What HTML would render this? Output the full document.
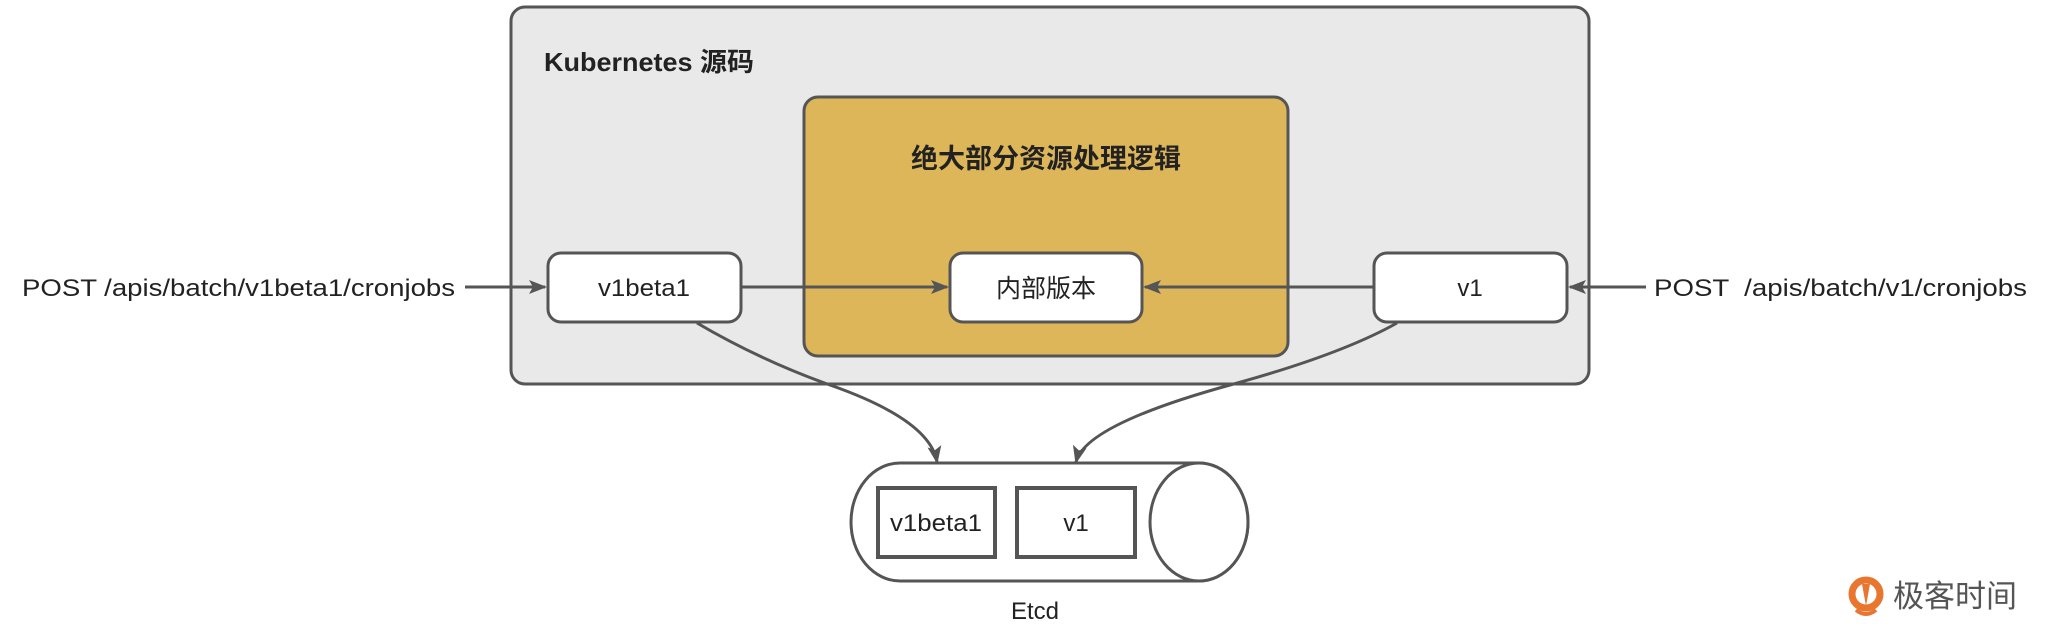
<!DOCTYPE html>
<html><head><meta charset="utf-8"><style>
html,body{margin:0;padding:0;background:#fff;}
svg{display:block;}
text{font-family:"Liberation Sans","Noto Sans CJK SC",sans-serif;fill:#222;}
</style></head><body>
<svg width="2054" height="642" viewBox="0 0 2054 642" xmlns="http://www.w3.org/2000/svg">
<defs>
<marker id="b" markerWidth="18" markerHeight="18" refX="16" refY="9" orient="auto" markerUnits="userSpaceOnUse" viewBox="0 0 18 18">
<path d="M0,2 L18,9 L0,16 L4,9 Z" fill="#555"/>
</marker>
</defs>
<rect x="511" y="7" width="1078" height="377" rx="14" fill="#E8E9E8" stroke="#555" stroke-width="3"/>
<text x="544" y="71" font-size="26" font-weight="bold" textLength="210" lengthAdjust="spacingAndGlyphs">Kubernetes 源码</text>
<rect x="804" y="97" width="484" height="259" rx="14" fill="#DEB65A" stroke="#555" stroke-width="3"/>
<text x="1046" y="168" font-size="27" font-weight="bold" text-anchor="middle">绝大部分资源处理逻辑</text>
<rect x="548" y="253" width="193" height="69" rx="13" fill="#fff" stroke="#555" stroke-width="3"/>
<text x="644" y="296" font-size="24" text-anchor="middle" textLength="92" lengthAdjust="spacingAndGlyphs">v1beta1</text>
<rect x="950" y="253" width="192" height="69" rx="13" fill="#fff" stroke="#555" stroke-width="3"/>
<text x="1046" y="297" font-size="25" text-anchor="middle">内部版本</text>
<rect x="1374" y="253" width="193" height="69" rx="13" fill="#fff" stroke="#555" stroke-width="3"/>
<text x="1470" y="296" font-size="24" text-anchor="middle">v1</text>
<text x="22" y="296" font-size="24" textLength="433" lengthAdjust="spacingAndGlyphs">POST /apis/batch/v1beta1/cronjobs</text>
<text x="1654" y="296" font-size="24" textLength="373" lengthAdjust="spacingAndGlyphs" xml:space="preserve">POST  /apis/batch/v1/cronjobs</text>
<line x1="465" y1="287" x2="545" y2="287" stroke="#555" stroke-width="3" marker-end="url(#b)"/>
<line x1="741" y1="287" x2="947" y2="287" stroke="#555" stroke-width="3" marker-end="url(#b)"/>
<line x1="1374" y1="287" x2="1145" y2="287" stroke="#555" stroke-width="3" marker-end="url(#b)"/>
<line x1="1646" y1="287" x2="1570" y2="287" stroke="#555" stroke-width="3" marker-end="url(#b)"/>
<path d="M900,463 L1199,463 A49,59 0 0 1 1199,581 L900,581 A49,59 0 0 1 900,463 Z" fill="#fff" stroke="#555" stroke-width="3"/>
<ellipse cx="1199" cy="522" rx="49" ry="59" fill="#fff" stroke="#555" stroke-width="3"/>
<rect x="878" y="488" width="117" height="69" fill="#fff" stroke="#555" stroke-width="4"/>
<text x="936" y="531" font-size="24" text-anchor="middle" textLength="92" lengthAdjust="spacingAndGlyphs">v1beta1</text>
<rect x="1017" y="488" width="118" height="69" fill="#fff" stroke="#555" stroke-width="4"/>
<text x="1076" y="531" font-size="24" text-anchor="middle">v1</text>
<text x="1035" y="619" font-size="24" text-anchor="middle">Etcd</text>
<path d="M697,323 Q760,360 830,385 Q930,420 937,462" fill="none" stroke="#555" stroke-width="3" marker-end="url(#b)"/>
<path d="M1397,323 Q1340,355 1230,385 Q1085,425 1076,462" fill="none" stroke="#555" stroke-width="3" marker-end="url(#b)"/>
<g>
<circle cx="1866" cy="594" r="14" fill="none" stroke="#E8762F" stroke-width="7"/>
<path d="M1862,584 L1870,584 L1866,606 Z" fill="#E8762F"/>
<path d="M1856,610 Q1866,618 1876,610" fill="none" stroke="#E8762F" stroke-width="4"/>
<text x="1893" y="607" font-size="31" style="fill:#555">极客时间</text>
</g>
</svg>
</body></html>
